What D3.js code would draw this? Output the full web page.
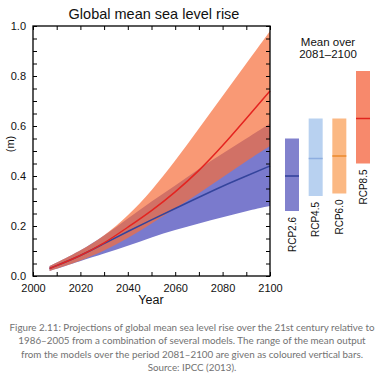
<!DOCTYPE html>
<html>
<head>
<meta charset="utf-8">
<script src="https://cdn.jsdelivr.net/npm/d3@7"></script>
<style>
  body { margin: 0; background: #fff; }
  svg { display: block; font-family: "Liberation Sans", Arial, sans-serif; }
  .caption { font-family: "Lato", "Open Sans", sans-serif; fill: #727272; }
</style>
</head>
<body>
<svg id="chart" width="385" height="383"></svg>
<script>
// time series, projections (m)
const years = [2007, 2020, 2030, 2040, 2050, 2060, 2070, 2080, 2090, 2100]
const rcp85Low  = [0.02, 0.06, 0.10, 0.15, 0.21, 0.27, 0.33, 0.395, 0.46, 0.52]
const rcp85Mean = [0.03, 0.08, 0.13, 0.195, 0.26, 0.335, 0.42, 0.52, 0.63, 0.74]
const rcp85High = [0.04, 0.10, 0.16, 0.24, 0.34, 0.46, 0.59, 0.72, 0.85, 0.98]
const rcp26Low  = [0.02, 0.06, 0.09, 0.12, 0.155, 0.185, 0.21, 0.235, 0.26, 0.28]
const rcp26Mean = [0.03, 0.08, 0.13, 0.178, 0.225, 0.27, 0.315, 0.36, 0.40, 0.44]
const rcp26High = [0.04, 0.10, 0.16, 0.23, 0.30, 0.36, 0.43, 0.49, 0.55, 0.61]

// mean over 2081-2100
const scenarios = ["RCP2.6", "RCP4.5", "RCP6.0", "RCP8.5"]
const barLow  = [0.26, 0.32, 0.33, 0.45]
const barMean = [0.40, 0.47, 0.48, 0.63]
const barHigh = [0.55, 0.63, 0.63, 0.82]
const barFill = ["#8181cd", "#b8d1f0", "#fbb883", "#f7896c"]
const barLine = ["#2f3f98", "#8eaee0", "#eb8a2c", "#e0241f"]

const captionLines = [
  "Figure 2.11: Projections of global mean sea level rise over the 21st century relative to",
  "1986–2005 from a combination of several models. The range of the mean output",
  "from the models over the period 2081–2100 are given as coloured vertical bars.",
  "Source: IPCC (2013)."
]

const svg = d3.select("#chart")

const x = d3.scaleLinear().domain([2000, 2100]).range([33, 270])
const y = d3.scaleLinear().domain([0, 1]).range([276, 26])
const xb = d3.scalePoint().domain(scenarios).range([292, 363])
const barW = 14

const rows = years.map((yr, i) => ({
  yr,
  l85: rcp85Low[i], m85: rcp85Mean[i], h85: rcp85High[i],
  l26: rcp26Low[i], m26: rcp26Mean[i], h26: rcp26High[i]
}))

const area = (lo, hi) => d3.area().curve(d3.curveBasis)
  .x(d => x(d.yr)).y0(d => y(d[lo])).y1(d => y(d[hi]))
const line = key => d3.line().curve(d3.curveBasis)
  .x(d => x(d.yr)).y(d => y(d[key]))

// bands
svg.append("path").datum(rows).attr("d", area("l26", "h26"))
  .attr("fill", "#7a7acd")
svg.append("path").datum(rows).attr("d", area("l85", "h85"))
  .attr("fill", "#f66d3a").attr("fill-opacity", 0.7)

svg.append("path").datum(rows).attr("d", line("m26"))
  .attr("fill", "none").attr("stroke", "#34449c").attr("stroke-width", 1.5)
svg.append("path").datum(rows).attr("d", line("m85"))
  .attr("fill", "none").attr("stroke", "#e42420").attr("stroke-width", 1.5)

// frame + axes
svg.append("rect").attr("x", x(2000)).attr("y", y(1)).attr("width", x(2100) - x(2000))
  .attr("height", y(0) - y(1)).attr("fill", "none").attr("stroke", "#000").attr("stroke-width", 1.3)

const yTicks = d3.range(0, 1.0001, 0.05)
const xTicks = d3.range(2000, 2100.1, 10)
const major = v => Math.abs(v * 5 - Math.round(v * 5)) < 1e-6

const axisStyle = g => {
  g.select(".domain").remove()
  g.selectAll("line").attr("stroke", "#000").attr("stroke-width", 1)
  g.selectAll("text").attr("fill", "#111").attr("font-size", 11)
}

svg.append("g").attr("transform", `translate(${x(2000)},0)`)
  .call(d3.axisLeft(y).tickValues(yTicks).tickSize(-4).tickPadding(7)
    .tickFormat(v => major(v) ? d3.format(".1f")(v) : ""))
  .call(axisStyle)
svg.append("g").attr("transform", `translate(${x(2100)},0)`)
  .call(d3.axisRight(y).tickValues(yTicks).tickSize(-4).tickFormat(""))
  .call(axisStyle)
svg.append("g").attr("transform", `translate(0,${y(0)})`)
  .call(d3.axisBottom(x).tickValues(xTicks).tickSize(-4).tickPadding(8)
    .tickFormat(v => v % 20 === 0 ? v : ""))
  .call(axisStyle)
svg.append("g").attr("transform", `translate(0,${y(1)})`)
  .call(d3.axisTop(x).tickValues(xTicks).tickSize(-4).tickFormat(""))
  .call(axisStyle)

// titles
svg.append("text").attr("x", 154).attr("y", 19).attr("text-anchor", "middle")
  .attr("font-size", 14.5).attr("fill", "#111").text("Global mean sea level rise")
svg.append("text").attr("x", 151).attr("y", 304).attr("text-anchor", "middle")
  .attr("font-size", 12.5).attr("fill", "#111").text("Year")
svg.append("text").attr("transform", "translate(14,144) rotate(-90)").attr("text-anchor", "middle")
  .attr("font-size", 11).attr("fill", "#111").text("(m)")

svg.append("text").attr("x", 328).attr("y", 46).attr("text-anchor", "middle")
  .attr("font-size", 11.5).attr("fill", "#111").text("Mean over")
svg.append("text").attr("x", 328).attr("y", 58).attr("text-anchor", "middle")
  .attr("font-size", 11.5).attr("fill", "#111").text("2081–2100")

// bars
const bars = svg.append("g").selectAll("g").data(scenarios).join("g")
bars.append("rect")
  .attr("x", d => xb(d) - barW / 2).attr("width", barW)
  .attr("y", (d, i) => y(barHigh[i])).attr("height", (d, i) => y(barLow[i]) - y(barHigh[i]))
  .attr("fill", (d, i) => barFill[i])
bars.append("line")
  .attr("x1", d => xb(d) - barW / 2).attr("x2", d => xb(d) + barW / 2)
  .attr("y1", (d, i) => y(barMean[i])).attr("y2", (d, i) => y(barMean[i]))
  .attr("stroke", (d, i) => barLine[i]).attr("stroke-width", 1.5)
bars.append("text")
  .attr("transform", (d, i) => `translate(${xb(d) + 3.5},${y(barLow[i]) + 6}) rotate(-90)`)
  .attr("text-anchor", "end").attr("font-size", 10).attr("fill", "#111")
  .text(d => d)

// caption
svg.append("g").selectAll("text").data(captionLines).join("text")
  .attr("class", "caption")
  .attr("x", 192).attr("y", (d, i) => 331 + i * 13.3)
  .attr("text-anchor", "middle").attr("font-size", 9.8)
  .text(d => d)
</script>
</body>
</html>
